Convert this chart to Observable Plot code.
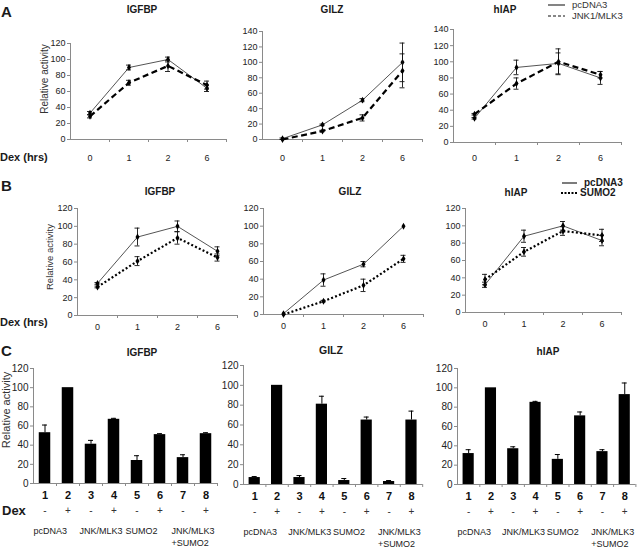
<!DOCTYPE html>
<html><head><meta charset="utf-8">
<script src="https://cdn.jsdelivr.net/npm/d3@7"></script>
<script src="https://cdn.jsdelivr.net/npm/@observablehq/plot@0.6"></script>
<style>
body{margin:0;background:#fff;}
#fig{position:relative;width:640px;height:554px;overflow:hidden;font-family:"Liberation Sans",Arial,sans-serif;color:#1a1a1a;background:#fff;}
.abs{position:absolute;white-space:nowrap;line-height:1;}
#fig svg{overflow:visible;}
</style></head><body><div id="fig"></div>
<script>
// ---------- data ----------
const hours = ["0", "1", "2", "6"];
// Panel A (pcDNA3 vs JNK1/MLK3)
const aIgfbpPc = [33, 90, 100, 64];   const aIgfbpPcErr = [2, 3, 3, 4];
const aIgfbpJnk = [29, 71, 92, 68];   const aIgfbpJnkErr = [2, 3, 7, 5];
const aGilzPc = [1, 19, 51, 100];     const aGilzPcErr = [1, 1, 2, 25];
const aGilzJnk = [0, 11, 28, 89];     const aGilzJnkErr = [0, 1, 4, 22];
const aHiapPc = [30, 93, 98, 80];     const aHiapPcErr = [1, 9, 13, 8];
const aHiapJnk = [35, 73, 100, 84];   const aHiapJnkErr = [1, 7, 16, 4];
// Panel B (pcDNA3 vs SUMO2)
const bIgfbpPc = [36, 88, 100, 72];   const bIgfbpPcErr = [1, 10, 6, 5];
const bIgfbpSumo = [32, 61, 87, 65];  const bIgfbpSumoErr = [1, 5, 7, 4];
const bGilzPc = [1, 39, 57, 100];     const bGilzPcErr = [0, 7, 3, 0];
const bGilzSumo = [0, 15, 33, 63];    const bGilzSumoErr = [0, 1, 7, 4];
const bHiapPc = [32, 88, 100, 83];    const bHiapPcErr = [3, 7, 5, 6];
const bHiapSumo = [38, 70, 94, 89];   const bHiapSumoErr = [6, 5, 5, 7];
// Panel C (bars)
const lanes = ["1", "2", "3", "4", "5", "6", "7", "8"];
const dexMarks = ["-", "+", "-", "+", "-", "+", "-", "+"];
const groups = ["pcDNA3", "JNK/MLK3", "SUMO2", "JNK/MLK3\n+SUMO2"];
const cIgfbp = [53, 100, 41, 67, 24, 51, 27, 52]; const cIgfbpErr = [8, 0, 4, 1, 5, 1, 3, 1];
const cGilz = [7, 100, 7, 81, 4, 65, 3, 65];      const cGilzErr = [1, 0, 2, 8, 2, 3, 1, 9];
const cHiap = [32, 100, 37, 85, 26, 71, 34, 93];  const cHiapErr = [4, 0, 2, 1, 5, 4, 2, 12];

// ---------- styling / layout ----------
const AX = "#8a8a8a", TX = "#222";
const FONT = "'Liberation Sans',Arial,sans-serif";
const fig = document.getElementById("fig");
const pcStyle = {stroke: "#555", strokeWidth: 1};
const jnkStyle = {stroke: "#000", strokeWidth: 2.2, strokeDasharray: "6,3.5", strokeLinecap: "butt", strokeLinejoin: "miter"};
const sumoStyle = {stroke: "#000", strokeWidth: 2.2, strokeDasharray: "2,2.2", strokeLinecap: "butt", strokeLinejoin: "miter"};

function place(svg, left, top) {
  svg.style.position = "absolute";
  svg.style.left = left + "px";
  svg.style.top = top + "px";
  fig.appendChild(svg);
}

function linePanel(g, series) {
  const ml = 30, mr = 6, mt = 6, mb = 28;
  const w = ml + 4 * g.band + mr;
  const h = (g.y0 - g.yTop) + mt + mb;
  const cap = 2.5 / g.band;
  const marks = [
    Plot.ruleX([0], {y1: 0, y2: g.max, stroke: AX}),
    Plot.ruleY([0], {x1: 0, x2: 4, stroke: AX}),
    Plot.axisY({ticks: d3.range(0, g.max + 1, 20), tickSize: 3, tickPadding: 2, stroke: AX, fill: TX, fontSize: g.fs, label: null}),
    Plot.axisX({ticks: [1, 2, 3, 4], tickSize: 3, tickFormat: () => "", stroke: AX, label: null}),
    Plot.axisX({ticks: [0.5, 1.5, 2.5, 3.5], tickSize: 0, tickPadding: g.pad, tickFormat: v => hours[Math.floor(v)], fill: TX, fontSize: g.fs, label: null})
  ];
  for (const s of series) {
    const rows = s.values.map((v, i) => ({xi: i + 0.5, v, e: s.err[i]}));
    const eb = rows.filter(d => d.e > 0);
    marks.push(
      Plot.line(rows, {x: "xi", y: "v", ...s.style}),
      Plot.ruleX(eb, {x: "xi", y1: d => d.v - d.e, y2: d => d.v + d.e, stroke: "#111", strokeWidth: 0.9}),
      Plot.ruleY(eb, {y: d => d.v + d.e, x1: d => d.xi - cap, x2: d => d.xi + cap, stroke: "#111", strokeWidth: 0.9}),
      Plot.ruleY(eb, {y: d => d.v - d.e, x1: d => d.xi - cap, x2: d => d.xi + cap, stroke: "#111", strokeWidth: 0.9}),
      Plot.dot(rows, {x: "xi", y: "v", symbol: "diamond", r: 2.1, fill: "#000"})
    );
  }
  const svg = Plot.plot({
    width: w, height: h, marginLeft: ml, marginRight: mr, marginTop: mt, marginBottom: mb,
    x: {domain: [0, 4], range: [ml, ml + 4 * g.band]},
    y: {domain: [0, g.max], range: [h - mb, mt]},
    style: {background: "transparent", overflow: "visible", fontFamily: FONT},
    marks
  });
  place(svg, g.ax - ml, g.yTop - mt);
}

function barPanel(g, values, err) {
  const ml = 30, mr = 6, mt = 6, mb = 70;
  const n = lanes.length;
  const w = ml + n * g.band + mr;
  const h = (g.y0 - g.yTop) + mt + mb;
  const bw = 0.5, cap = 2.5 / g.band;
  const rows = values.map((v, i) => ({i, xi: i + 0.5, v, e: err[i], lane: lanes[i], dex: dexMarks[i]}));
  const eb = rows.filter(d => d.e > 0);
  const grp = groups.map((t, k) => ({t, k}));
  const svg = Plot.plot({
    width: w, height: h, marginLeft: ml, marginRight: mr, marginTop: mt, marginBottom: mb,
    x: {domain: [0, n], range: [ml, ml + n * g.band]},
    y: {domain: [0, 120], range: [h - mb, mt]},
    style: {background: "transparent", overflow: "visible", fontFamily: FONT},
    marks: [
      Plot.ruleX([0], {y1: 0, y2: 120, stroke: AX}),
      Plot.axisY({ticks: d3.range(0, 121, 20), tickSize: 3, tickPadding: 2, stroke: AX, fill: TX, fontSize: 10, label: null}),
      Plot.axisX({ticks: d3.range(1, n + 1), tickSize: 3, tickFormat: () => "", stroke: AX, label: null}),
      Plot.rect(rows, {x1: d => d.i + (1 - bw) / 2, x2: d => d.i + 1 - (1 - bw) / 2, y1: () => 0, y2: "v", fill: "#000"}),
      Plot.ruleX(eb, {x: "xi", y1: "v", y2: d => d.v + d.e, stroke: "#000", strokeWidth: 1}),
      Plot.ruleY(eb, {y: d => d.v + d.e, x1: d => d.xi - cap, x2: d => d.xi + cap, stroke: "#000", strokeWidth: 1}),
      Plot.ruleY([0], {x1: 0, x2: n, stroke: AX}),
      Plot.text(rows, {x: "xi", y: () => 0, text: "lane", dy: 12, fontWeight: "bold", fontSize: 11, fill: "#111"}),
      Plot.text(rows, {x: "xi", y: () => 0, text: "dex", dy: 27, fontSize: 10, fill: "#333"}),
      Plot.text(grp, {x: d => 2 * d.k, y: () => 0, text: "t", textAnchor: "start", lineAnchor: "top", dy: 42.5, lineHeight: 1.3, fontSize: 9, fill: "#222"})
    ]
  });
  place(svg, g.ax - ml, g.yTop - mt);
}

// ---------- panels ----------
linePanel({ax: 70, y0: 139, yTop: 43, max: 120, band: 39, pad: 15, fs: 9},
  [{values: aIgfbpPc, err: aIgfbpPcErr, style: pcStyle}, {values: aIgfbpJnk, err: aIgfbpJnkErr, style: jnkStyle}]);
linePanel({ax: 262, y0: 139, yTop: 31, max: 140, band: 40, pad: 15, fs: 9},
  [{values: aGilzPc, err: aGilzPcErr, style: pcStyle}, {values: aGilzJnk, err: aGilzJnkErr, style: jnkStyle}]);
linePanel({ax: 453, y0: 142, yTop: 29, max: 140, band: 42, pad: 12, fs: 9},
  [{values: aHiapPc, err: aHiapPcErr, style: pcStyle}, {values: aHiapJnk, err: aHiapJnkErr, style: jnkStyle}]);

linePanel({ax: 77, y0: 315, yTop: 208, max: 120, band: 40, pad: 8, fs: 9},
  [{values: bIgfbpPc, err: bIgfbpPcErr, style: pcStyle}, {values: bIgfbpSumo, err: bIgfbpSumoErr, style: sumoStyle}]);
linePanel({ax: 263, y0: 314, yTop: 208, max: 120, band: 40, pad: 8, fs: 9},
  [{values: bGilzPc, err: bGilzPcErr, style: pcStyle}, {values: bGilzSumo, err: bGilzSumoErr, style: sumoStyle}]);
linePanel({ax: 465, y0: 312, yTop: 208, max: 120, band: 39, pad: 8, fs: 9},
  [{values: bHiapPc, err: bHiapPcErr, style: pcStyle}, {values: bHiapSumo, err: bHiapSumoErr, style: sumoStyle}]);

barPanel({ax: 33, y0: 483, yTop: 368, band: 23}, cIgfbp, cIgfbpErr);
barPanel({ax: 243, y0: 484, yTop: 365, band: 22.4}, cGilz, cGilzErr);
barPanel({ax: 457, y0: 484, yTop: 368, band: 22.3}, cHiap, cHiapErr);

// ---------- text ----------
function label(txt, x, y, style, anchor = "middle", rotate = 0) {
  const d = document.createElement("div");
  d.className = "abs";
  d.textContent = txt;
  d.style.left = x + "px";
  d.style.top = y + "px";
  const tx = anchor === "start" ? "0" : anchor === "end" ? "-100%" : "-50%";
  d.style.transform = `translate(${tx},-50%)` + (rotate ? ` rotate(${rotate}deg)` : "");
  Object.assign(d.style, style);
  fig.appendChild(d);
}
const titleS = {fontSize: "10px", fontWeight: "bold"};
label("IGFBP", 142, 10, titleS); label("GILZ", 332, 10, titleS); label("hIAP", 505, 10, titleS);
label("IGFBP", 160, 192, titleS); label("GILZ", 350, 192, titleS); label("hIAP", 516, 193, titleS);
label("IGFBP", 142, 353, titleS); label("GILZ", 331, 350, {fontSize: "10.5px", fontWeight: "bold"}); label("hIAP", 548, 352, titleS);

const letterS = {fontSize: "15px", fontWeight: "bold"};
label("A", 1, 11, letterS, "start"); label("B", 1, 185, letterS, "start"); label("C", 1, 350, letterS, "start");

const dexS = {fontSize: "11px", fontWeight: "bold"};
label("Dex (hrs)", 0, 157, dexS, "start");
label("Dex (hrs)", 0, 322, dexS, "start");
label("Dex", 2, 510, {fontSize: "13px", fontWeight: "bold"}, "start");

label("Relative activity", 45, 79, {fontSize: "10px", color: "#333"}, "middle", -90);
label("Relative activity", 50, 257, {fontSize: "9.5px", color: "#333"}, "middle", -90);
label("Relative activity", 6, 410, {fontSize: "11px", color: "#333"}, "middle", -90);

// legends
function swatch(x1, x2, y, stroke, width, dash) {
  const ns = "http://www.w3.org/2000/svg";
  const s = document.createElementNS(ns, "svg");
  s.setAttribute("width", x2 - x1 + 2); s.setAttribute("height", 6);
  s.style.position = "absolute"; s.style.left = (x1 - 1) + "px"; s.style.top = (y - 3) + "px";
  const l = document.createElementNS(ns, "line");
  l.setAttribute("x1", 1); l.setAttribute("x2", x2 - x1 + 1); l.setAttribute("y1", 3); l.setAttribute("y2", 3);
  l.setAttribute("stroke", stroke); l.setAttribute("stroke-width", width);
  if (dash) l.setAttribute("stroke-dasharray", dash);
  s.appendChild(l); fig.appendChild(s);
}
swatch(548, 565, 5, "#666", 1.6, null);
swatch(548, 565, 16, "#111", 1.2, "3,2");
label("pcDNA3", 572, 5, {fontSize: "9.5px", color: "#333"}, "start");
label("JNK1/MLK3", 572, 16, {fontSize: "9.5px", color: "#333"}, "start");
swatch(562, 577, 183, "#111", 1.1, null);
swatch(561, 577, 193, "#000", 2.2, "2,1.5");
label("pcDNA3", 584, 183, {fontSize: "10px", fontWeight: "bold"}, "start");
label("SUMO2", 580, 193, {fontSize: "10px", fontWeight: "bold"}, "start");
</script></body></html>
